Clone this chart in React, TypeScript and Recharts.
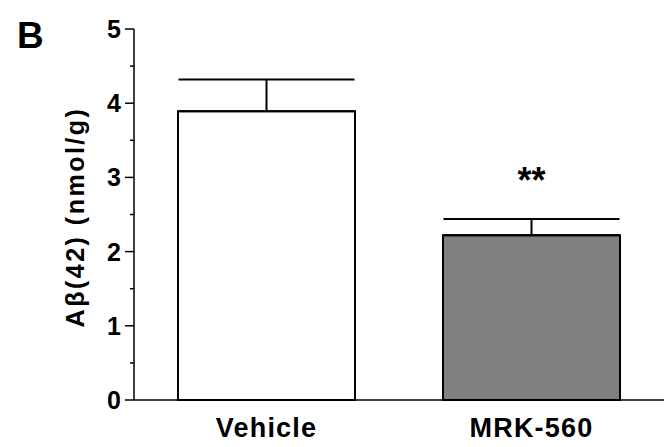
import React from "react";
import { BarChart, Bar, XAxis, YAxis, ErrorBar, Cell, LabelList, Label } from "recharts";

const groups = ["Vehicle", "MRK-560"];
const means = [3.89, 2.22];
const sems = [0.43, 0.22];
const fills = ["#ffffff", "#808080"];
const marks = ["", "**"];
const yTicks = [0, 0.5, 1, 1.5, 2, 2.5, 3, 3.5, 4, 4.5, 5];

const FONT = "'Liberation Sans', Arial, sans-serif";

const data = groups.map((g, i) => ({
  name: g,
  value: means[i],
  err: [0, sems[i]],
  mark: marks[i],
}));

function YTick(props: any) {
  const { x, y, payload } = props;
  const v = payload.value;
  const major = Number.isInteger(v);
  return (
    <g>
      <line x1={x - (major ? 9 : 4)} x2={x} y1={y} y2={y} stroke="#000" strokeWidth={1.5} />
      {major && (
        <text
          x={x - 13}
          y={y}
          dy="0.36em"
          textAnchor="end"
          fontFamily={FONT}
          fontWeight="bold"
          fontSize={25}
          fill="#000"
        >
          {v}
        </text>
      )}
    </g>
  );
}

function XTick(props: any) {
  const { x, y, payload } = props;
  return (
    <text
      x={x}
      y={y + 37}
      textAnchor="middle"
      fontFamily={FONT}
      fontWeight="bold"
      fontSize={27}
      letterSpacing={1.2}
      fill="#000"
    >
      {payload.value}
    </text>
  );
}

function StarLabel(props: any) {
  const { x, y, width, height, value, index } = props;
  if (!value) return null;
  const perUnit = height / means[index];
  const capY = y - sems[index] * perUnit;
  return (
    <text
      x={x + width / 2}
      y={capY - 26}
      textAnchor="middle"
      fontFamily={FONT}
      fontWeight="bold"
      fontSize={36}
      fill="#000"
    >
      {value}
    </text>
  );
}

export default function App() {
  return (
    <div style={{ position: "absolute", left: 0, top: 0, width: 664, height: 447, background: "#fff" }}>
      <div
        style={{
          position: "absolute",
          left: 17,
          top: 15,
          fontFamily: FONT,
          fontWeight: "bold",
          fontSize: 37,
          lineHeight: "42px",
        }}
      >
        B
      </div>
      <BarChart
        width={664}
        height={447}
        data={data}
        margin={{ top: 29, right: 0, bottom: 0, left: 0 }}
      >
        <XAxis
          dataKey="name"
          height={47}
          axisLine={{ stroke: "#000", strokeWidth: 1.5 }}
          tickLine={false}
          tickSize={0}
          tickMargin={0}
          tick={<XTick />}
          interval={0}
        />
        <YAxis
          width={134}
          domain={[0, 5]}
          ticks={yTicks}
          interval={0}
          axisLine={{ stroke: "#000", strokeWidth: 1.5 }}
          tickLine={false}
          tickSize={0}
          tickMargin={0}
          tick={<YTick />}
        >
          <Label
            content={() => (
              <text
                x={75}
                y={217}
                transform="rotate(-90 75 217)"
                textAnchor="middle"
                dominantBaseline="central"
                fontFamily={FONT}
                fontWeight="bold"
                fontSize={25}
                letterSpacing={2.5}
                fill="#000"
              >
                Aβ(42) (nmol/g)
              </text>
            )}
          />
        </YAxis>
        <Bar dataKey="value" barSize={177} stroke="#000" strokeWidth={2} isAnimationActive={false}>
          {data.map((d, i) => (
            <Cell key={d.name} fill={fills[i]} />
          ))}
          <ErrorBar dataKey="err" width={88} stroke="#000" strokeWidth={2} direction="y" />
          <LabelList dataKey="mark" content={<StarLabel />} />
        </Bar>
      </BarChart>
    </div>
  );
}
